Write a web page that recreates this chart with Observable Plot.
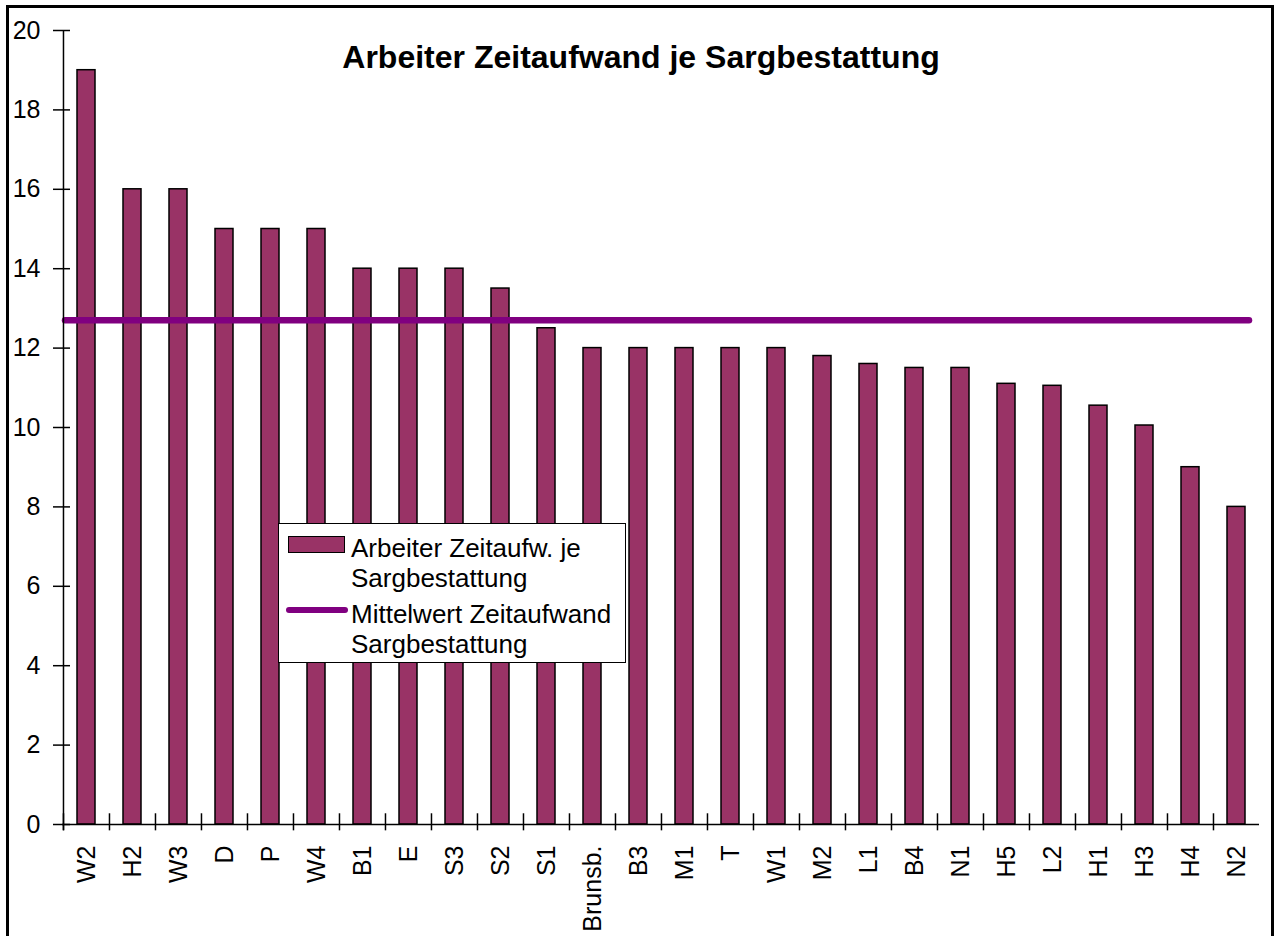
<!DOCTYPE html>
<html>
<head>
<meta charset="utf-8">
<script src="https://cdn.jsdelivr.net/npm/d3@7"></script>
<script src="https://cdn.jsdelivr.net/npm/@observablehq/plot@0.6"></script>
<style>
  html, body { margin: 0; padding: 0; background: #fff; }
  #wrap { position: relative; width: 1276px; height: 936px; overflow: hidden; font-family: "Liberation Sans", Arial, sans-serif; }
  #border { position: absolute; left: 6px; top: 5px; width: 1262px; height: 1000px; border: 3px solid #000; box-sizing: content-box; }
  #chart { position: absolute; left: 0; top: 0; }
  #legend { position: absolute; left: 278px; top: 523px; width: 346px; height: 138px; border: 1.5px solid #000; background: #fff; box-sizing: content-box; }
  .item { position: absolute; left: 72px; font-size: 26px; line-height: 30px; color: #000; white-space: nowrap; }
  .sw-bar { position: absolute; left: 9px; top: 12px; width: 55px; height: 15px; background: #993366; border: 1.5px solid #000; }
  .sw-line { position: absolute; left: 7px; top: 83px; width: 62px; height: 6px; background: #800080; border-radius: 3px; }
</style>
</head>
<body>
<div id="wrap">
  <div id="border"></div>
  <div id="chart"></div>
  <div id="legend">
    <div class="sw-bar"></div>
    <div class="item" style="top:9px">Arbeiter Zeitaufw. je<br>Sargbestattung</div>
    <div class="sw-line"></div>
    <div class="item" style="top:75px">Mittelwert Zeitaufwand<br>Sargbestattung</div>
  </div>
</div>
<script>
const categories = ["W2","H2","W3","D","P","W4","B1","E","S3","S2","S1","Brunsb.","B3","M1","T","W1","M2","L1","B4","N1","H5","L2","H1","H3","H4","N2"];
const values = [19,16,16,15,15,15,14,14,14,13.5,12.5,12,12,12,12,12,11.8,11.6,11.5,11.5,11.1,11.05,10.55,10.05,9,8];
const meanValue = 12.7;
const yTicks = [0,2,4,6,8,10,12,14,16,18,20];
const title = "Arbeiter Zeitaufwand je Sargbestattung";

const data = categories.map((c, i) => ({cat: c, value: values[i]}));

const W = 1276, H = 936, ML = 62, MR = 17, MT = 30, MB = 112;
const step = (W - ML - MR) / categories.length;

const chart = Plot.plot({
  width: W, height: H,
  marginLeft: ML, marginRight: MR, marginTop: MT, marginBottom: MB,
  style: { fontFamily: "'Liberation Sans', Arial, sans-serif", fontSize: "25px", background: "transparent", color: "#000" },
  x: { domain: categories, paddingInner: 0.61, paddingOuter: 0.305, label: null },
  y: { domain: [0, 20], label: null },
  marks: [
    Plot.barY(data, { x: "cat", y: "value", fill: "#993366", stroke: "#000", strokeWidth: 1.5 }),
    Plot.ruleY([meanValue], { stroke: "#800080", strokeWidth: 6.5, strokeLinecap: "round", insetLeft: 3, insetRight: 10 }),
    Plot.ruleY([0], { stroke: "#000", strokeWidth: 1.5 }),
    Plot.ruleX([categories[0]], { x: d => d, dx: -step / 2, y1: -0.16, y2: 20, stroke: "#000", strokeWidth: 1.5 }),
    Plot.ruleX(categories, { x: d => d, dx: -step / 2, y1: -0.16, y2: 0.27, stroke: "#000", strokeWidth: 1.5 }),
    Plot.axisY(yTicks, { tickSize: 17, dx: 8, tickPadding: 13, strokeWidth: 1.5, fontSize: 25, tickFormat: d => String(d) }),
    Plot.axisX({ tickSize: 0, tickPadding: 21, tickRotate: -90, fontSize: 25 }),
    Plot.text([title], { frameAnchor: "top", lineAnchor: "middle", dy: 27, dx: -20, fontSize: 32, fontWeight: "bold" })
  ]
});
document.getElementById("chart").appendChild(chart);
</script>
</body>
</html>
